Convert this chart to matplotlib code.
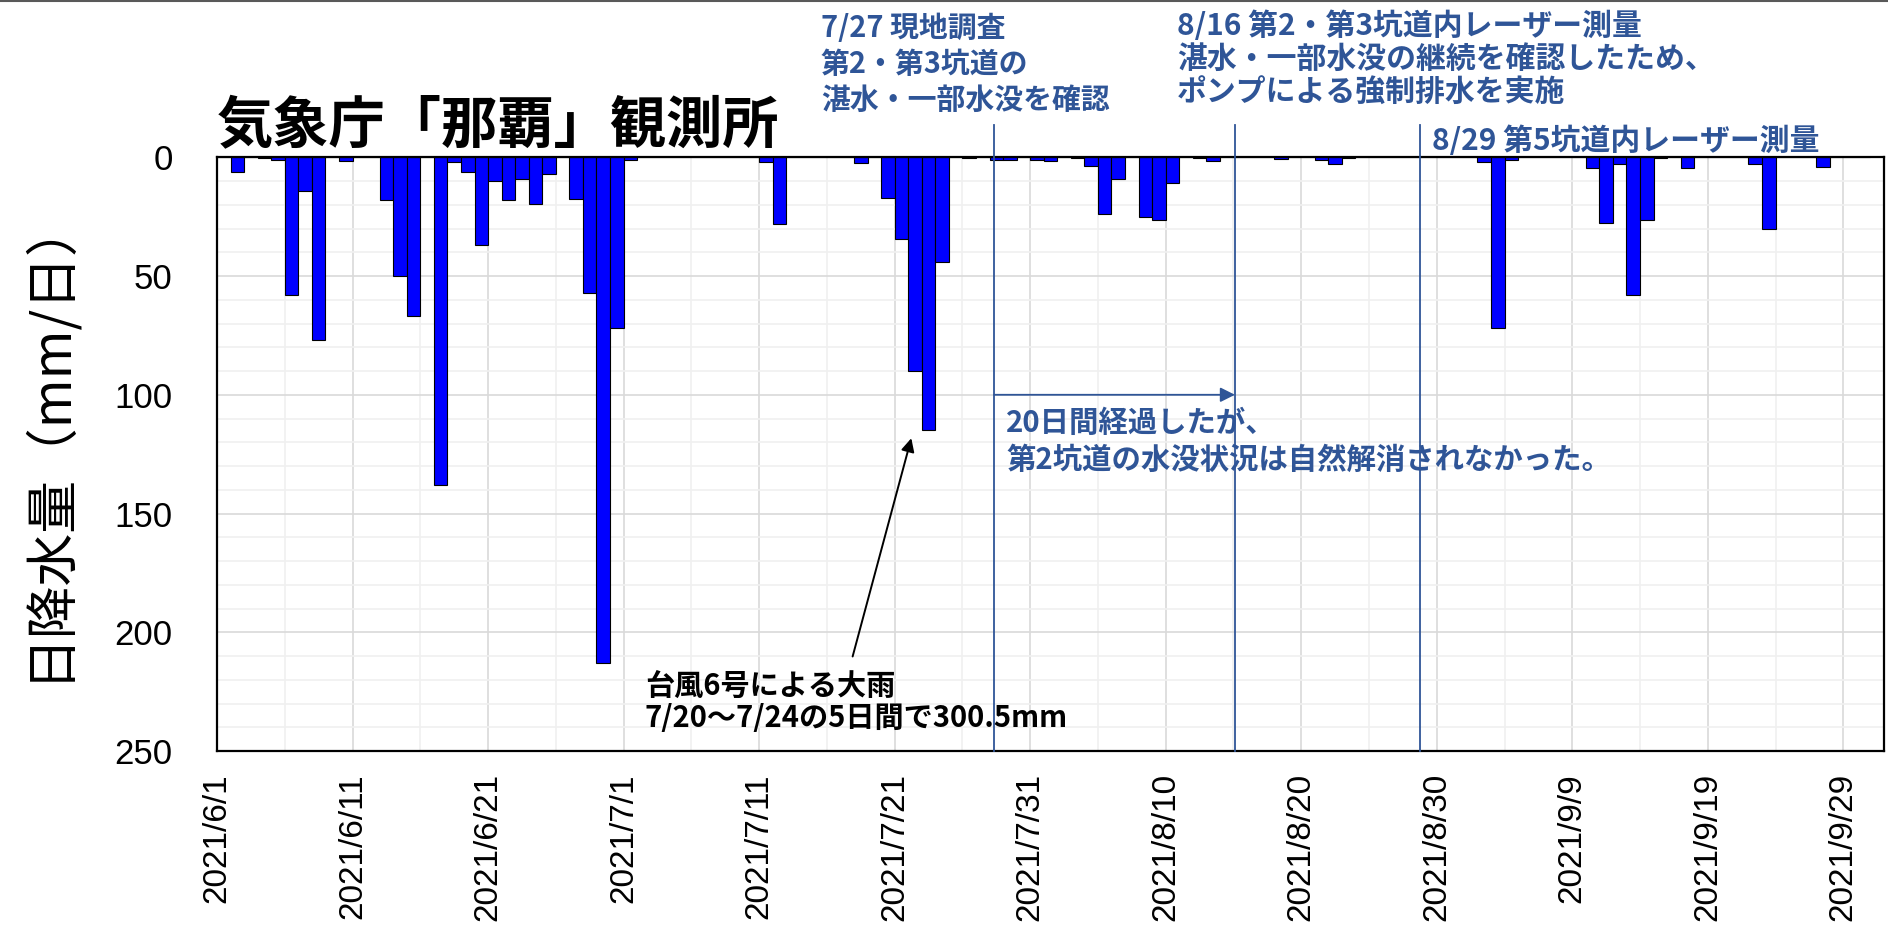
import numpy as np
import matplotlib
matplotlib.use("Agg")
import matplotlib.pyplot as plt
from matplotlib.ticker import MultipleLocator

plt.rcParams['font.family'] = ['Noto Sans CJK JP', 'DejaVu Sans']

# daily rainfall (mm/day) at JMA Naha, one value per day from 2021/6/1
june = [0, 6, 0, 0.5, 1, 58, 14, 77, 0, 1.5,
        0, 0, 18, 50, 67, 0, 138, 2, 6, 37,
        10, 18, 9, 19.5, 7, 0, 17.5, 57, 213, 72]
july = [1, 0, 0, 0, 0, 0, 0, 0, 0, 0,
        2, 28, 0, 0, 0, 0, 0, 2.5, 0, 17,
        34.5, 90, 115, 44, 0, 0.5, 0, 1, 1, 0, 1]
august = [1.5, 0, 0.5, 3.5, 24, 9, 0, 25, 26.5, 11,
          0, 0.5, 1.5, 0, 0, 0, 0, 0.7, 0, 0,
          1.3, 3, 0.4, 0, 0, 0, 0, 0, 0, 0, 0]
september = [0, 2, 72, 1, 0, 0, 0, 0, 0, 4.6,
             27.5, 3, 58, 26.5, 0.5, 0, 4.5, 0, 0, 0,
             0, 3, 30, 0, 0, 0, 4, 0, 0, 0]

tick_labels = ['2021/6/1', '2021/6/11', '2021/6/21', '2021/7/1', '2021/7/11',
               '2021/7/21', '2021/7/31', '2021/8/10', '2021/8/20', '2021/8/30',
               '2021/9/9', '2021/9/19', '2021/9/29']

# event lines (days after 6/1, as drawn on the slide)
event_days = [57.34, 75.11, 88.77]

title = '気象庁「那覇」観測所'
ylabel = '日降水量（mm/日）'
note_0727 = ['7/27 現地調査', '第2・第3坑道の', '湛水・一部水没を確認']
note_0816 = ['8/16 第2・第3坑道内レーザー測量', '湛水・一部水没の継続を確認したため、',
             'ポンプによる強制排水を実施']
note_0829 = ['8/29 第5坑道内レーザー測量']
note_20d = ['20日間経過したが、', '第2坑道の水没状況は自然解消されなかった。']
note_typhoon = ['台風6号による大雨', '7/20～7/24の5日間で300.5mm']

rain = np.array(june + july + august + september)
days = np.arange(len(rain))

W, H = 1888, 927
BLUE = '#2F5597'


def fx(px):
    return px / W


def fy(py):
    return 1 - py / H


def put_lines(lines, left, base0, step, size, color, weight='bold'):
    for i, s in enumerate(lines):
        fig.text(fx(left), fy(base0 + i * step), s, fontsize=size, color=color,
                 fontweight=weight, ha='left', va='baseline')


fig = plt.figure(figsize=(W / 100, H / 100), dpi=100)
ax = fig.add_axes([fx(217), fy(751), (1884 - 217) / W, (751 - 157.3) / H])

ax.bar(days, rain, width=1, align='edge', color='#0000FF', edgecolor='black',
       linewidth=0.8, zorder=3)

ax.set_xlim(0, 123)
ax.set_ylim(250, 0)
ax.set_xticks(np.arange(0, 121, 10))
ax.set_xticklabels(tick_labels, rotation=90, fontsize=24, family='Liberation Sans', va='top')
ax.xaxis.set_minor_locator(MultipleLocator(5))
ax.set_yticks(np.arange(0, 251, 50))
ax.set_yticklabels([str(v) for v in range(0, 251, 50)], fontsize=25, family='Liberation Sans')
ax.yaxis.set_minor_locator(MultipleLocator(10))
ax.tick_params(axis='x', which='both', length=0, pad=16)
ax.tick_params(axis='y', which='both', length=0, pad=32)
ax.grid(which='major', color='#D9D9D9', lw=1.2, zorder=0)
ax.grid(which='minor', color='#F0F0F0', lw=1.2, zorder=0)
for sp in ax.spines.values():
    sp.set_linewidth(1.6)
    sp.set_color('black')
    sp.set_zorder(4)

# event lines reaching above the plot
for d in event_days:
    ax.plot([d, d], [-13.6, 250], color=BLUE, lw=1.3, clip_on=False, zorder=5)

ax.annotate('', xy=(event_days[1], 100), xytext=(event_days[0], 100),
            arrowprops=dict(arrowstyle='-|>', color=BLUE, lw=1.3,
                            mutation_scale=22, shrinkA=0, shrinkB=0), zorder=5)
ax.annotate('', xy=(51.23, 118.3), xytext=(46.9, 210.2),
            arrowprops=dict(arrowstyle='-|>', color='black', lw=1.4,
                            mutation_scale=20, shrinkA=0, shrinkB=0), zorder=5)

fig.text(fx(217), fy(143), title, fontsize=40.5, fontweight='bold', ha='left', va='baseline')
fig.text(fx(46), fy(437), ylabel, fontsize=38, rotation=90, ha='center', va='center')

put_lines(note_0727, 821, 36.5, 36, 20.8, BLUE)
put_lines(note_0816, 1177, 34.5, 33.5, 21.5, BLUE)
put_lines(note_0829, 1432, 150, 33, 21.5, BLUE)
put_lines(note_20d, 1006, 431.5, 37, 21.2, BLUE)
put_lines(note_typhoon, 645, 694.5, 33, 21, 'black')

# slide frame line at the very top
fig.add_artist(plt.Line2D([0, 1], [fy(1), fy(1)], color='#595959', lw=1.5))

fig.savefig('out.png', dpi=100)
